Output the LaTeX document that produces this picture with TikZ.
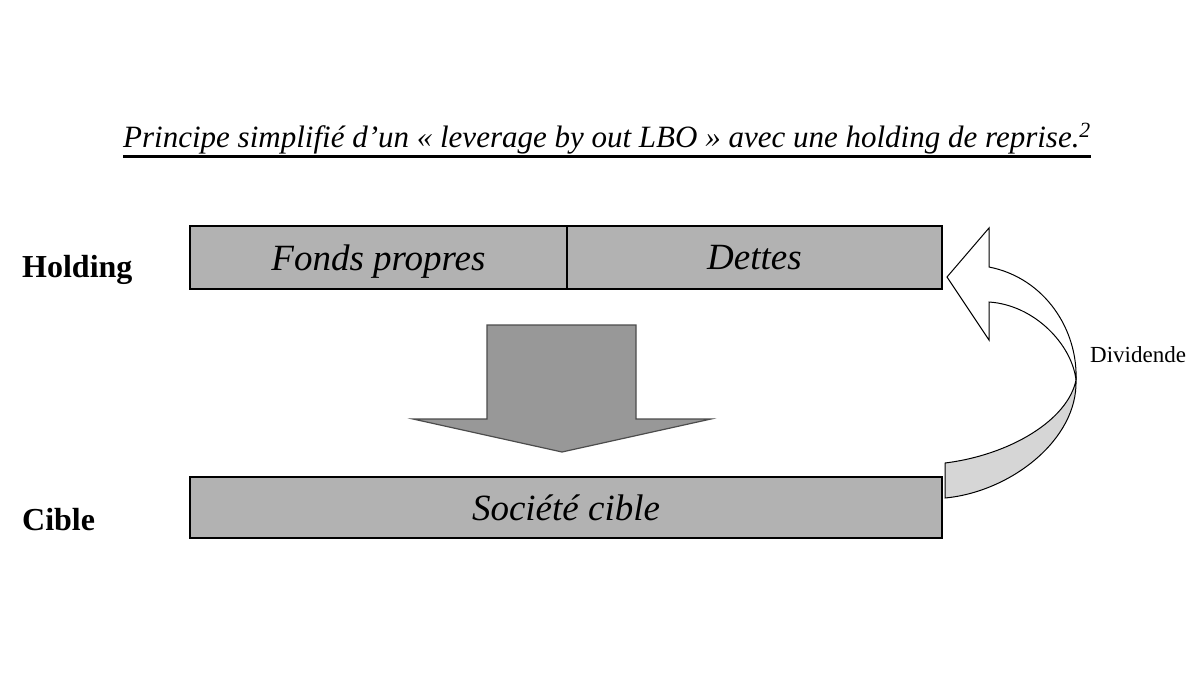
\documentclass[tikz,border=0pt]{standalone}
\usepackage{fontspec}
\setmainfont{Liberation Serif}
\definecolor{barfill}{RGB}{178,178,178}
\definecolor{arrowfill}{RGB}{152,152,152}
\definecolor{ribbonfill}{RGB}{214,214,214}
\begin{document}
\begin{tikzpicture}[x=1pt,y=-1pt,
    bar/.style={draw,line width=1.5pt,fill=barfill,inner sep=0pt,text depth=0pt,font=\itshape\fontsize{37}{40}\selectfont},
    side/.style={inner sep=0pt,font=\bfseries\fontsize{32}{36}\selectfont}]
    \useasboundingbox (0,0) rectangle (1200,675);
    \node[anchor=base,inner sep=0pt,font=\itshape\fontsize{31}{34}\selectfont] (title) at (607,147)
      {Principe simplifié d'un « leverage by out LBO » avec une holding de reprise.\textsuperscript{2}};
    \draw[line width=3pt] ([yshift=-9pt]title.base west) -- ([yshift=-9pt]title.base east);
    \node[side,anchor=west] (holding) at (22,270) {Holding};
    \node[side,anchor=west] (cible) at (22,520) {Cible};
    \node[bar,minimum width=377pt,minimum height=63pt] (fonds) at (378.5,257.5) {Fonds propres};
    \node[bar,minimum width=375pt,minimum height=63pt] (dettes) at (754.5,257.5) {Dettes};
    \node[bar,minimum width=752pt,minimum height=61pt] (societe) at (566,507.5) {Société cible};
    % big arrow down
    \draw[fill=arrowfill,draw=black!70,line width=1.2pt] (487,325) -- (636,325) -- (636,419)
      -- (711,419) -- (562,452) -- (413,419) -- (487,419) -- cycle;
    % dividend ribbon
    \draw[fill=ribbonfill,line width=1pt] (1076,380) .. controls (1078,440) and (1010,492) .. (945,498)
      -- (945,463) .. controls (1010,455) and (1068,420) .. (1076,380) -- cycle;
    \draw[fill=white,line width=1pt] (947,277) -- (989,228) -- (989,267)
      .. controls (1045,278) and (1078,330) .. (1076,380)
      .. controls (1072,345) and (1035,305) .. (989,302) -- (989,340) -- cycle;
    \node[anchor=west,inner sep=0pt,font=\fontsize{23}{26}\selectfont] (div) at (1090,355) {Dividende};
\end{tikzpicture}
\end{document}
